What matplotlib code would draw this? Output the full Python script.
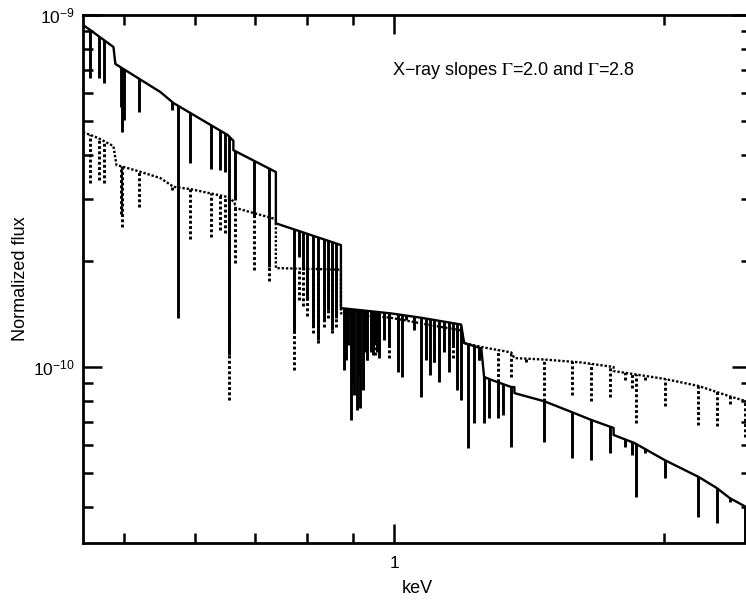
import matplotlib
matplotlib.use('Agg')
import matplotlib.pyplot as plt
from matplotlib.patches import Polygon
from matplotlib.ticker import NullFormatter, FuncFormatter

plt.rcParams['font.family'] = ['Liberation Sans', 'DejaVu Sans']
plt.rcParams['mathtext.fontset'] = 'stix'

# continuum of the steep spectrum (solid), keV / flux
steep_e = [0.450, 0.4585, 0.4866, 0.489, 0.549, 0.5677, 0.6525, 0.662, 0.662, 0.7383, 0.7383,
           0.8725, 0.8725, 0.992, 1.072, 1.188, 1.197, 1.251, 1.260, 1.284, 1.351, 1.362, 1.362,
           1.471, 1.577, 1.660, 1.757, 1.757, 1.854, 2.003, 2.186, 2.290, 2.368, 2.506]
steep_f = [9.37e-10, 9.06e-10, 8.11e-10, 7.26e-10, 6.04e-10, 5.62e-10, 4.56e-10, 4.39e-10, 4.13e-10,
           3.58e-10, 2.56e-10, 2.22e-10, 1.47e-10, 1.42e-10, 1.38e-10, 1.32e-10, 1.17e-10, 1.13e-10,
           9.37e-11, 9.19e-11, 8.77e-11, 8.77e-11, 8.43e-11, 7.99e-11, 7.45e-11, 7.07e-11, 6.71e-11,
           6.41e-11, 6.08e-11, 5.44e-11, 4.87e-11, 4.53e-11, 4.24e-11, 3.92e-11]

# absorption lines of the steep spectrum: energy and depth
steep_line_e = [0.4585, 0.4693, 0.4755, 0.4967, 0.4979, 0.500, 0.520, 0.566, 0.5736, 0.5918,
                0.6246, 0.6393, 0.6477, 0.6542, 0.664, 0.6974, 0.7248, 0.7732, 0.7835, 0.7913,
                0.800, 0.8119, 0.8225, 0.8352, 0.8438, 0.8527, 0.8615,
                0.8793, 0.8840, 0.8884, 0.8954, 0.8990, 0.9022, 0.9093, 0.9130, 0.9163, 0.9234,
                0.9280, 0.9329, 0.9425, 0.9475, 0.9523, 0.9570, 0.9621, 0.9746, 0.9872, 1.0104,
                1.0208, 1.0314, 1.0528, 1.0719, 1.0858, 1.097, 1.1084, 1.1228, 1.1373, 1.1519,
                1.1638, 1.1759, 1.188, 1.2097, 1.2285, 1.2444, 1.260, 1.2769, 1.3068, 1.3237,
                1.351, 1.471, 1.577, 1.656, 1.743, 1.807, 1.840, 1.859, 1.902, 2.003, 2.181,
                2.290, 2.368, 2.461]
steep_line_f = [6.62e-10, 6.62e-10, 6.41e-10, 5.48e-10, 4.65e-10, 5.03e-10, 5.30e-10, 5.37e-10,
                1.38e-10, 3.80e-10, 3.65e-10, 3.63e-10, 3.58e-10, 1.08e-10, 2.98e-10, 2.67e-10,
                1.92e-10, 1.25e-10, 2.05e-10, 1.89e-10, 1.55e-10, 1.30e-10, 1.19e-10, 1.36e-10,
                1.45e-10, 1.27e-10, 1.38e-10,
                9.81e-11, 1.05e-10, 1.155e-10, 7.07e-11, 9.0e-11, 8.33e-11, 7.55e-11, 9.5e-11,
                7.65e-11, 8.60e-11, 1.10e-10, 1.05e-10, 1.12e-10, 1.08e-10, 1.155e-10, 1.10e-10,
                1.06e-10, 1.19e-10, 1.14e-10, 9.68e-11, 9.37e-11, 1.36e-10, 1.27e-10, 8.22e-11,
                1.05e-10, 9.49e-11, 1.03e-10, 9.07e-11, 1.12e-10, 9.68e-11, 1.155e-10, 8.60e-11,
                8.06e-11, 5.89e-11, 6.93e-11, 1.05e-10, 6.93e-11, 7.16e-11, 7.16e-11, 7.31e-11,
                5.92e-11, 6.12e-11, 5.51e-11, 5.44e-11, 5.70e-11, 5.92e-11, 5.62e-11, 4.27e-11,
                5.70e-11, 4.84e-11, 3.75e-11, 3.61e-11, 4.13e-11, 3.0e-11]

# continuum of the flat spectrum (dotted)
flat_e = [0.450, 0.468, 0.4866, 0.4903, 0.5188, 0.549, 0.5677, 0.5935, 0.6525, 0.664, 0.6657,
          0.7383, 0.7383, 0.8725, 0.8725, 0.992, 1.072, 1.188, 1.197, 1.251, 1.351, 1.362,
          1.471, 1.618, 1.757, 1.757, 2.003, 2.186, 2.290, 2.379, 2.506]
flat_f = [4.65e-10, 4.47e-10, 4.24e-10, 3.75e-10, 3.60e-10, 3.44e-10, 3.25e-10, 3.20e-10,
          3.04e-10, 2.94e-10, 2.83e-10, 2.63e-10, 1.91e-10, 1.89e-10, 1.42e-10, 1.38e-10,
          1.33e-10, 1.27e-10, 1.17e-10, 1.14e-10, 1.10e-10, 1.06e-10, 1.05e-10, 1.03e-10,
          1.0e-10, 9.74e-11, 9.25e-11, 8.83e-11, 8.49e-11, 8.22e-11, 7.91e-11]

flat_line_e = [0.4585, 0.4693, 0.4755, 0.4967, 0.4979, 0.520, 0.566, 0.5918, 0.6246, 0.6393,
               0.6477, 0.6542, 0.664, 0.6974, 0.7248, 0.7732, 0.7835, 0.7913, 0.800, 0.8119,
               0.8225, 0.8352, 0.8438, 0.8527, 0.8615, 0.9329, 0.9425, 0.9523, 0.9621, 0.9872,
               1.0104, 1.0858, 1.1084, 1.1373, 1.1638, 1.2444, 1.3068, 1.351, 1.404, 1.471,
               1.577, 1.656, 1.743, 1.807, 1.840, 1.859, 1.902, 2.003, 2.181, 2.290, 2.368, 2.461]
flat_line_f = [3.33e-10, 3.40e-10, 3.33e-10, 2.72e-10, 2.50e-10, 2.85e-10, 3.18e-10, 2.31e-10,
               2.34e-10, 2.45e-10, 2.40e-10, 8.06e-11, 1.97e-10, 1.89e-10, 1.75e-10, 9.81e-11,
               1.55e-10, 1.49e-10, 1.40e-10, 1.25e-10, 1.17e-10, 1.30e-10, 1.38e-10, 1.25e-10,
               1.30e-10, 1.05e-10, 1.10e-10, 1.08e-10, 1.12e-10, 1.06e-10, 1.05e-10, 1.08e-10,
               1.03e-10, 1.10e-10, 1.06e-10, 1.05e-10, 7.65e-11, 9.37e-11, 1.03e-10, 7.99e-11,
               8.33e-11, 7.99e-11, 8.22e-11, 9.19e-11, 8.71e-11, 6.93e-11, 9.19e-11, 7.75e-11,
               6.84e-11, 6.81e-11, 7.85e-11, 6.32e-11]

DOTTED = (0, (1, 0.8))


def draw_spectrum(ax, e, f, line_e, line_f, ls, lw):
    # lines are clipped by the area under the continuum
    verts = list(zip(e, f)) + [(e[-1], 1e-13), (e[0], 1e-13)]
    clip = Polygon(verts, closed=True, transform=ax.transData, fill=False, edgecolor='none')
    lc = ax.vlines(line_e, line_f, 1e-9, colors='black', linewidth=lw + 0.4, linestyles=ls)
    lc.set_clip_path(clip)
    ax.plot(e, f, color='black', linewidth=lw, linestyle=ls)


fig = plt.figure(figsize=(7.46, 6.03), dpi=100)
ax = fig.add_axes([83 / 746, 60 / 603, 668 / 746, 528 / 603])
ax.set_xscale('log')
ax.set_yscale('log')

draw_spectrum(ax, flat_e, flat_f, flat_line_e, flat_line_f, DOTTED, 1.7)
draw_spectrum(ax, steep_e, steep_f, steep_line_e, steep_line_f, '-', 1.7)

ax.set_xlim(0.45, 2.5)
ax.set_ylim(10 ** -10.5, 1e-9)
ax.xaxis.set_major_formatter(FuncFormatter(lambda v, p: '%g' % v))
ax.xaxis.set_minor_formatter(NullFormatter())
ax.yaxis.set_minor_formatter(NullFormatter())
ax.tick_params(which='both', direction='in', top=True, right=True, width=1.8, labelsize=12.5)
ax.tick_params(which='major', length=14)
ax.tick_params(which='minor', length=7)
ax.tick_params(axis='x', which='major', pad=9)
ax.tick_params(axis='y', which='major', pad=6)
for s in ax.spines.values():
    s.set_linewidth(2)

ax.text(0.4626, 0.895, 'X\u2212ray slopes $\\Gamma$=2.0 and $\\Gamma$=2.8', transform=ax.transAxes,
        fontsize=13, va='center', ha='left')
ax.set_xlabel('keV', fontsize=13, labelpad=7)
ax.set_ylabel('Normalized flux', fontsize=13, labelpad=3)

fig.savefig('out.png', dpi=100)
